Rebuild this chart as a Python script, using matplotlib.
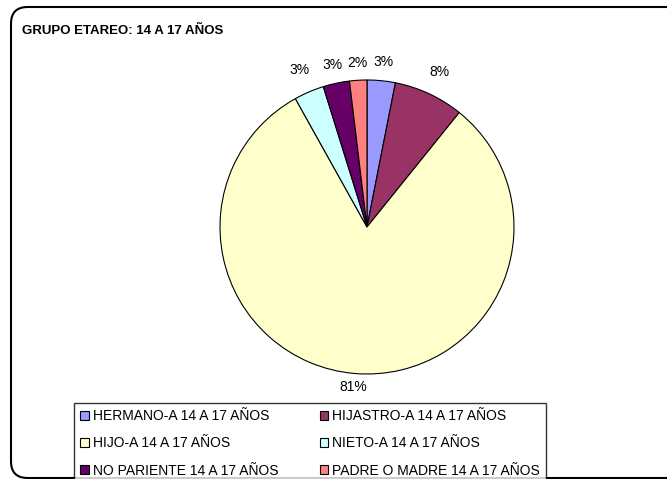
import matplotlib as mpl
import matplotlib.pyplot as plt
from matplotlib.patches import FancyBboxPatch

mpl.rcParams['font.family'] = ['Liberation Sans', 'DejaVu Sans']

# slices, clockwise from 12 o'clock
labels = ['HERMANO-A 14 A 17 AÑOS', 'HIJASTRO-A 14 A 17 AÑOS', 'HIJO-A 14 A 17 AÑOS',
          'NIETO-A 14 A 17 AÑOS', 'NO PARIENTE 14 A 17 AÑOS', 'PADRE O MADRE 14 A 17 AÑOS']
values = [3.1, 7.7, 81.1, 3.3, 2.9, 1.9]
colors = ['#9999FF', '#993366', '#FFFFCC', '#CCFFFF', '#660066', '#FF8080']

W, H = 667, 479
fig = plt.figure(figsize=(W / 100, H / 100), dpi=100)
fig.patch.set_facecolor('w')

# rounded chart frame (right side runs off the picture)
frame = FancyBboxPatch((11 / W, 1 / H), (W + 20) / W, (H - 8) / H,
                       boxstyle='round,pad=0,rounding_size=0.025',
                       transform=fig.transFigure, fill=False, lw=1.5,
                       edgecolor='black', clip_on=False, mutation_aspect=W / H)
fig.patches.append(frame)

fig.text(22 / W, 1 - 31 / H, 'GRUPO ETAREO: 14 A 17 AÑOS', fontsize=9.5,
         fontweight='bold', va='center', ha='left')

cx, cy, r = 367, 227, 147
ax = fig.add_axes([(cx - r) / W, 1 - (cy + r) / H, 2 * r / W, 2 * r / H])
wedges, texts, autotexts = ax.pie(values, colors=colors, startangle=90, counterclock=False,
                                  autopct='%1.0f%%', pctdistance=1.13,
                                  wedgeprops=dict(edgecolor='black', linewidth=0.8),
                                  textprops=dict(fontsize=10))
# push the labels out a bit more where Excel did
label_dist = [1.13, 1.16, 1.09, 1.16, 1.13, 1.12]
for t, d in zip(autotexts, label_dist):
    x, y = t.get_position()
    t.set_position((x * d / 1.13, y * d / 1.13))
ax.set_xlim(-1, 1)
ax.set_ylim(-1, 1)
ax.set_aspect('auto')

# legend filled row by row, as in the original
order = [0, 2, 4, 1, 3, 5]
leg = fig.legend([wedges[i] for i in order], [labels[i] for i in order], ncol=2,
                 loc='upper left', bbox_to_anchor=(74 / W, 1 - 403 / H), fontsize=10,
                 frameon=True, fancybox=False, edgecolor='black',
                 handlelength=0.6, handleheight=0.6, handletextpad=0.3,
                 labelspacing=0.95, columnspacing=3.0, borderaxespad=0,
                 borderpad=0.45)
leg.get_frame().set_linewidth(1.0)

plt.savefig('out.png', dpi=100, facecolor=fig.get_facecolor())
